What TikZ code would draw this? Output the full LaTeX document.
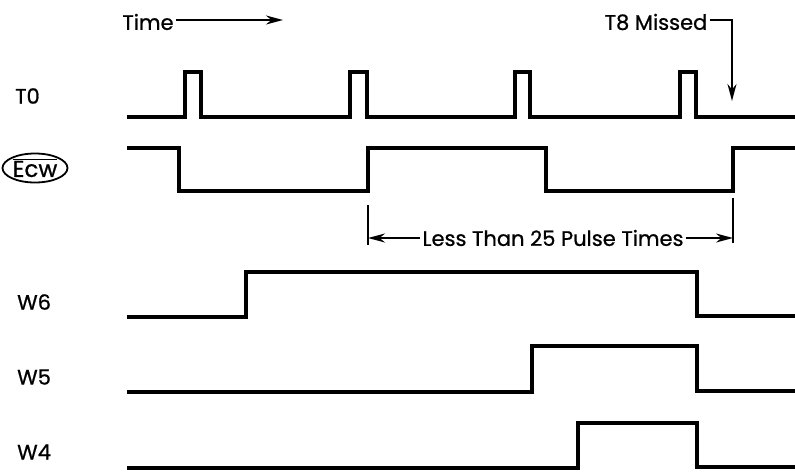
\documentclass[tikz,border=0pt]{standalone}
\usepackage{fontspec}
\setmainfont{Poppins}[FakeBold=0.8]
\usetikzlibrary{shapes.geometric,arrows.meta}
\begin{document}
\begin{tikzpicture}[x=1pt,y=-1pt,
  wave/.style={line width=3.2pt,line join=miter},
  lbl/.style={font=\fontsize{21}{23}\selectfont,inner sep=0pt,anchor=west},
  txt/.style={font=\fontsize{21}{23}\selectfont,inner sep=2pt},
  arr/.style={line width=1.8pt,-{Stealth[length=17pt,width=9pt]}},
  tick/.style={line width=2.2pt}]
\useasboundingbox (0,0) rectangle (795,474);
% labels
\node[lbl] (lT0) at (15,96) {T0};
\node[draw,ellipse,line width=1.8pt,minimum width=65pt,minimum height=29pt,inner sep=0pt,font=\fontsize{23}{25}\selectfont] (lEcw) at (35,168) {$\overline{\mbox{Ecw}}$};
\node[lbl] (lW6) at (17,302) {W6};
\node[lbl] (lW5) at (17,377) {W5};
\node[lbl] (lW4) at (17,452) {W4};
% T0
\draw[wave] (127,117) -- (185,117) -- (185,72) -- (201,72) -- (201,117)
  -- (350,117) -- (350,72) -- (367,72) -- (367,117)
  -- (515,117) -- (515,72) -- (530,72) -- (530,117)
  -- (680,117) -- (680,72) -- (696,72) -- (696,117) -- (795,117);
% Ecw
\draw[wave] (127,148) -- (179,148) -- (179,191) -- (368,191) -- (368,148)
  -- (546,148) -- (546,191) -- (733,191) -- (733,148) -- (795,148);
% W6
\draw[wave] (127,317) -- (246,317) -- (246,272) -- (697,272) -- (697,316) -- (795,316);
% W5
\draw[wave] (127,392) -- (532,392) -- (532,346) -- (697,346) -- (697,391) -- (795,391);
% W4
\draw[wave] (127,468) -- (578,468) -- (578,423) -- (697,423) -- (697,467) -- (795,467);
% Time
\node[txt] (time) at (148,22) {Time};
\coordinate (timeend) at (283,20);
\draw[arr] (time.east |- timeend) -- (timeend);
% T8 Missed
\node[txt] (t8) at (656,22) {T8 Missed};
\coordinate (t8c) at (732,20);
\coordinate (t8tip) at (732,101);
\draw[arr] (t8.east |- t8c) -- (t8c) -- (t8tip);
% Less than 25 pulse times
\coordinate (tickLa) at (368,205);
\coordinate (tickLb) at (368,245);
\coordinate (tickRa) at (733,198);
\coordinate (tickRb) at (733,243);
\draw[tick] (tickLa) -- (tickLb);
\draw[tick] (tickRa) -- (tickRb);
\node[txt] (less) at (553,238) {Less Than 25 Pulse Times};
\draw[arr] (less.west) -- (368,238);
\draw[arr] (less.east) -- (733,238);
\end{tikzpicture}
\end{document}
